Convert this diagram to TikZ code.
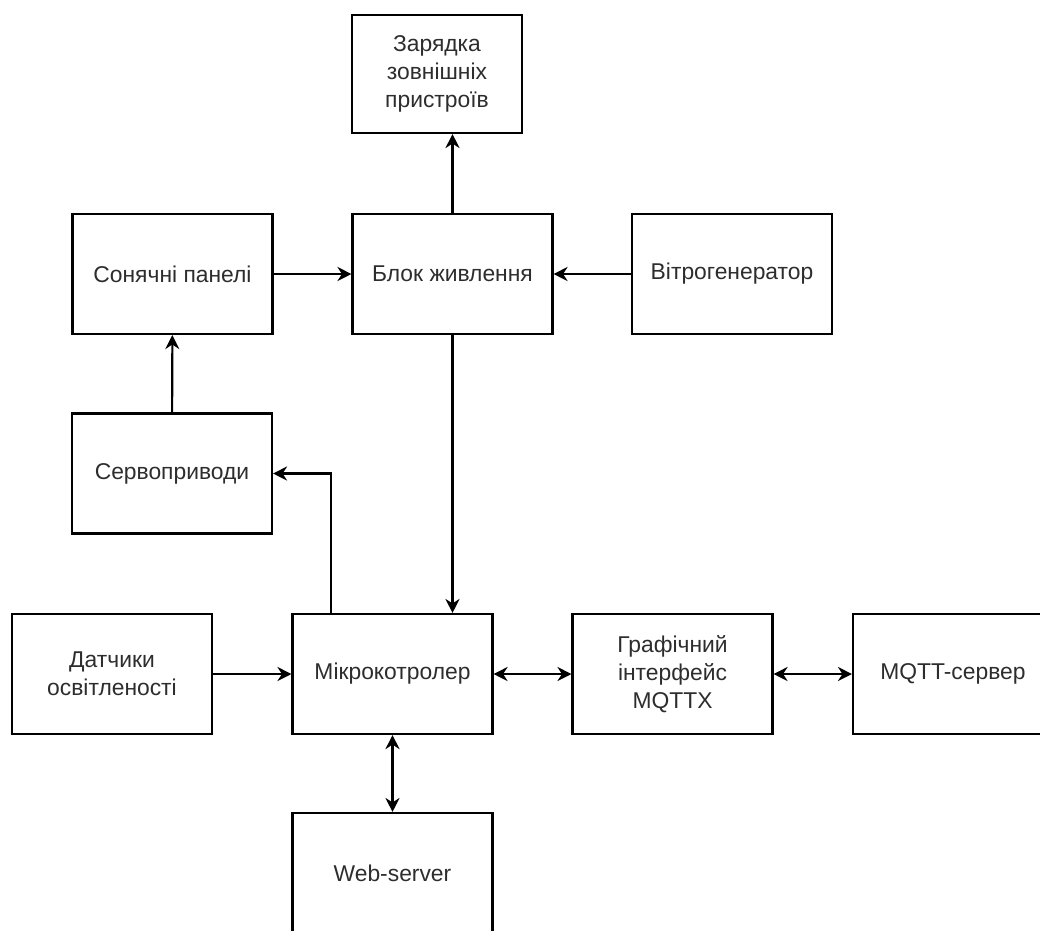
\documentclass[tikz,border=0pt]{standalone}
\usepackage{fontspec}
\setmainfont{Liberation Sans}
\usetikzlibrary{arrows.meta}
\definecolor{ctexte}{RGB}{45,45,45}
\tikzset{
  bloc/.style={draw, line width=1.2pt, minimum width=4cm, minimum height=2.4cm,
    align=center, text=ctexte, font=\fontsize{13}{16}\selectfont},
  fleche/.style={-{Stealth[length=8pt,width=8pt]}, line width=1.2pt},
  double/.style={{Stealth[length=8pt,width=8pt]}-{Stealth[length=8pt,width=8pt]}, line width=1.2pt}
}
\begin{document}
\begin{tikzpicture}[x=0.02cm, y=-0.02cm]
\useasboundingbox (0,0) rectangle (1040,930);
% живлення
\node[bloc, minimum width=3.4cm, minimum height=2.36cm] (zaryadka) at (437,74) {Зарядка\\зовнішніх\\пристроїв};
\node[bloc] (panels) at (172.5,274) {Сонячні панелі};
\node[bloc] (blok) at (452.5,274) {Блок живлення};
\node[bloc] (vitro) at (732,274) {Вітрогенератор};
\node[bloc] (servo) at (172,473.5) {Сервоприводи};
% керування
\node[bloc] (datchyky) at (112,674) {Датчики\\освітленості};
\node[bloc] (mikro) at (392.5,674) {Мікрокотролер};
\node[bloc] (graf) at (672.5,674) {Графічний\\інтерфейс\\MQTTX};
\node[bloc] (mqtt) at (953,674) {MQTT-сервер};
\node[bloc] (web) at (392.5,873) {Web-server};
% зв'язки
\draw[fleche] (panels) -- (blok);
\draw[fleche] (vitro) -- (blok);
\draw[fleche] (blok.north) -- (blok.north |- zaryadka.south);
\draw[fleche] (servo) -- (panels);
\draw[fleche] (blok.south) -- (blok.south |- mikro.north);
\coordinate (vykhid) at ([xshift=-1.23cm]mikro.north);
\draw[fleche] (vykhid) |- (servo.east);
\draw[fleche] (datchyky) -- (mikro);
\draw[double] (mikro) -- (graf);
\draw[double] (graf) -- (mqtt);
\draw[double] (mikro) -- (web);
\end{tikzpicture}
\end{document}
